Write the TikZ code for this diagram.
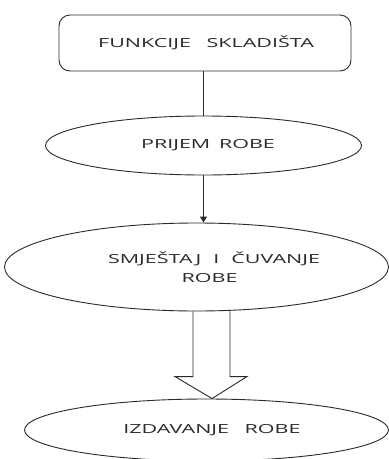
\documentclass[tikz,border=0pt]{standalone}
\usepackage{fontspec}
\usepackage{graphicx}
\setmainfont{Open Sans}
\usetikzlibrary{shapes.geometric,calc,arrows.meta}
\definecolor{ink}{HTML}{2A2A2A}
\tikzset{
  lbl/.style={font=\fontsize{12.5}{19}\selectfont, text=ink, align=center},
  oval/.style={ellipse, draw=ink, line width=0.9pt, inner sep=0pt, lbl},
  boxed/.style={rectangle, rounded corners=11pt, draw=ink, line width=0.9pt, inner sep=0pt, lbl},
  conn/.style={draw=ink, line width=0.9pt}
}
\newcommand{\tx}[1]{\scalebox{1.72}[1]{#1}}
\begin{document}
\begin{tikzpicture}[x=1pt,y=-1pt]
\useasboundingbox (0,0) rectangle (389,459);
\node[boxed, minimum width=292pt, minimum height=56pt] (f) at (205,43) {\hspace*{2pt}\tx{FUNKCIJE\hspace{9pt}SKLADIŠTA}};
\node[oval, minimum width=316pt, minimum height=59pt] (p) at (203.5,145.5) {\hspace*{9pt}\tx{PRIJEM\hspace{5pt}ROBE}};
\node[oval, minimum width=384pt, minimum height=88pt] (s) at (196.5,267) {\hspace*{35pt}\tx{SMJEŠTAJ\hspace{7pt}I\hspace{7pt}ČUVANJE}\\\hspace*{26pt}\tx{ROBE}};
\node[oval, minimum width=364pt, minimum height=62pt] (i) at (206.5,430) {\hspace*{11pt}\tx{IZDAVANJE\hspace{9pt}ROBE}};
\draw[conn] (f.south -| p.north) -- (p.north);
\draw[conn, -{Triangle[length=6pt,width=7pt]}] (p.south) -- (s.north -| p.south);
\coordinate (tip) at ($(i.north)+(5.5,0)$);
\draw[conn, line join=miter]
  ($(s.south -| tip)+(-19,0)$) -- ($(tip)+(-19,-22)$) -- ($(tip)+(-37,-22)$) -- (tip)
  -- ($(tip)+(35,-22)$) -- ($(tip)+(18,-22)$) -- ($(s.south -| tip)+(18,0)$);
\end{tikzpicture}
\end{document}
